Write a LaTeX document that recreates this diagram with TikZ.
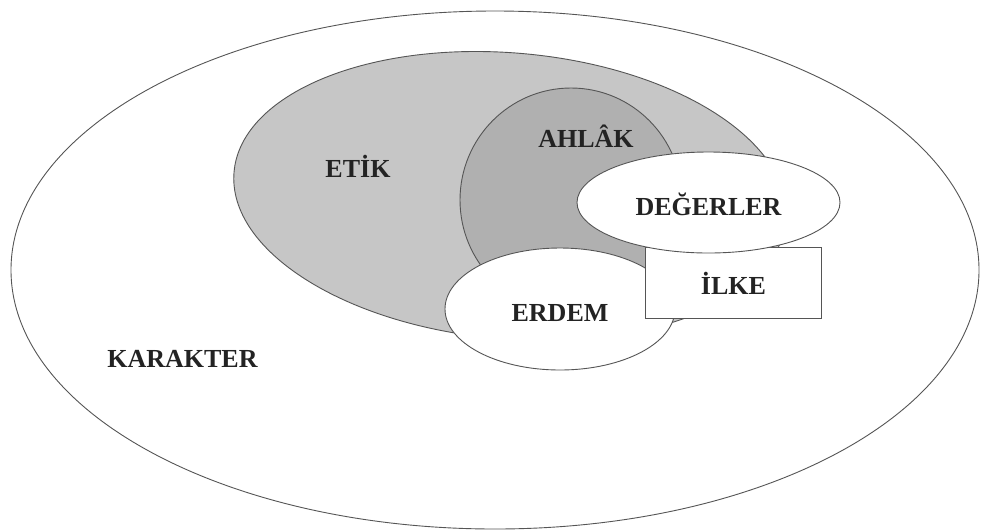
\documentclass[tikz,border=0pt]{standalone}
\usepackage{fontspec}
\setmainfont{Liberation Serif}
\definecolor{etikgray}{RGB}{198,198,198}
\definecolor{ahlakgray}{RGB}{176,176,176}
\definecolor{edgegray}{RGB}{85,85,85}
\definecolor{ink}{RGB}{35,35,35}
\begin{document}
\begin{tikzpicture}[x=1pt,y=-1pt,
  outline/.style={draw=edgegray, line width=0.9pt},
  lbl/.style={font=\fontsize{26}{30}\selectfont\bfseries, text=ink, anchor=base, inner sep=0pt}]
\useasboundingbox (0,0) rectangle (981,531);
% KARAKTER
\draw[outline, fill=white] (495,270) ellipse [x radius=484, y radius=259];
% ETIK
\draw[outline, fill=etikgray, rotate around={-5:(510,196)}] (510,196) ellipse [x radius=277, y radius=143];
% AHLAK
\draw[outline, fill=ahlakgray] (571,200) ellipse [x radius=111, y radius=112];
% ERDEM
\draw[outline, fill=white] (560,309) ellipse [x radius=115, y radius=61];
% ILKE
\draw[outline, fill=white] (645,247) rectangle (821,318);
% DEGERLER
\draw[outline, fill=white] (708.5,202.5) ellipse [x radius=131.5, y radius=50.5];
\node[lbl] (karakter) at (182.5,367) {KARAKTER};
\node[lbl] (etik) at (358,177) {ETİK};
\node[lbl] (ahlak) at (586,147) {AHLÂK};
\node[lbl] (degerler) at (708.5,215) {DEĞERLER};
\node[lbl] (ilke) at (733.5,294) {İLKE};
\node[lbl] (erdem) at (560,321) {ERDEM};
\end{tikzpicture}
\end{document}
